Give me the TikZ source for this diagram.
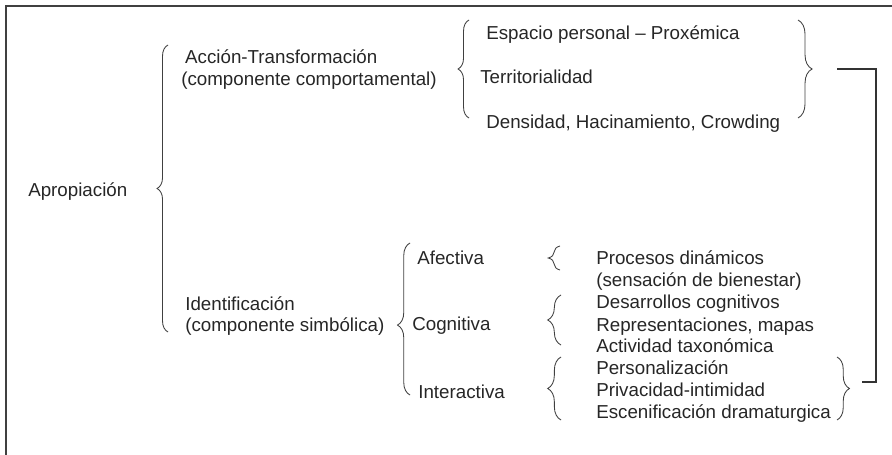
\documentclass[tikz,border=0pt]{standalone}
\usepackage{fontspec}
\setmainfont{Liberation Sans}
\usetikzlibrary{decorations.pathreplacing}

\begin{document}
\begin{tikzpicture}[x=0.64pt, y=-0.64pt,
  lbl/.style={anchor=base west, inner sep=0pt, align=left, text=black!85,
    font=\fontsize{12}{14.08}\selectfont},
  brc/.style={decorate, decoration={brace, amplitude=#1}, draw=black!75, line width=0.55pt},
  brc/.default=7pt]
  \useasboundingbox (0,0) rectangle (892,455);
  % Frame (only top and left edges show)
  \draw[black!75, line width=1pt] (6,455) -- (6,6) -- (892,6);

  % Root
  \node[lbl] (apro) at (28,197) {Apropiación};
  \draw[brc=7pt] (168,332) -- (168,45);

  % Behavioural branch (multi-line labels sit on their last baseline)
  \node[lbl] (accion) at (181,86) {\hspace*{2.5pt}Acción-Transformación\\(componente comportamental)};
  \draw[brc=7pt] (469,118) -- (469,20);
  \node[lbl] (espacio) at (486,40) {Espacio personal – Proxémica};
  \node[lbl] (terri) at (480,84) {Territorialidad};
  \node[lbl] (densi) at (486,129) {Densidad, Hacinamiento, Crowding};
  \draw[brc=9pt] (798,20) -- (798,118);

  % Symbolic branch
  \node[lbl] (ident) at (185,332) {Identificación\\(componente simbólica)};
  \draw[brc=8pt, decoration={aspect=0.46}] (410,395) -- (410,243);
  \node[lbl] (afect) at (417,265) {Afectiva};
  \node[lbl] (cogni) at (412,331) {Cognitiva};
  \node[lbl] (inter) at (418,399) {Interactiva};

  % Sub-items
  \draw[brc=7.5pt] (560,270) -- (560,246);
  \node[lbl] (proc) at (596,287) {Procesos dinámicos\\(sensación de bienestar)};
  \draw[brc=8.5pt] (561,345) -- (561,295);
  \node[lbl] (desa) at (596,353) {Desarrollos cognitivos\\Representaciones, mapas\\Actividad taxonómica};
  \draw[brc=8.5pt] (561,420) -- (561,357);
  \node[lbl] (pers) at (596,419) {Personalización\\Privacidad-intimidad\\Escenificación dramaturgica};
  \draw[brc=8pt] (837,357) -- (837,420);

  % Link between the two right braces
  \coordinate (linkA) at (837,69);
  \coordinate (linkB) at (862,382);
  \draw[black!80, line width=0.8pt] (linkA) -- (876,69) |- (linkB);
\end{tikzpicture}
\end{document}
